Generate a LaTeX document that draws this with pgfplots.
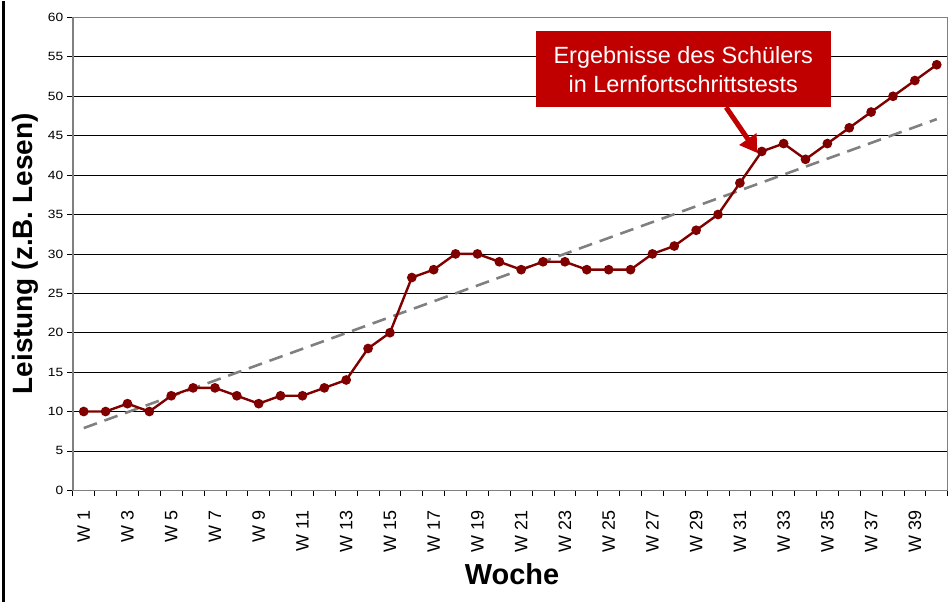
\documentclass[border=0pt]{standalone}
\usepackage{fontspec}
\setmainfont{Liberation Sans}
\usepackage{pgfplots}
\pgfplotsset{compat=1.18}
\usetikzlibrary{arrows.meta}

\definecolor{serie}{HTML}{800000}
\definecolor{kasten}{HTML}{C00000}
\definecolor{achse}{HTML}{808080}

\begin{document}
\begin{tikzpicture}
\begin{axis}[
  scale only axis, width=877pt, height=474pt,
  xmin=0.5, xmax=40.5, ymin=0, ymax=60,
  clip=false,
  xtick pos=bottom, ytick pos=left,
  xtick={0.5,1.5,...,40.5}, xticklabels={},
  extra x ticks={1,3,...,39},
  extra x tick labels={W 1,W 3,W 5,W 7,W 9,W 11,W 13,W 15,W 17,W 19,W 21,W 23,W 25,W 27,W 29,W 31,W 33,W 35,W 37,W 39},
  extra x tick style={major tick length=0pt,
    tick label style={yshift=-17pt, rotate=90, anchor=east, font=\fontsize{18}{20}\selectfont}},
  ytick={0,5,...,60},
  tick align=outside, major tick length=5.5pt,
  tick style={black, line width=0.8pt},
  yticklabel style={font=\fontsize{12}{14}\selectfont, xscale=1.15},
  /pgf/number format/assume math mode=true,
  ymajorgrids, grid style={black, line width=0.8pt},
  axis line style={achse, line width=1.6pt},
  ylabel={Leistung (z.B. Lesen)},
  ylabel style={at={(axis description cs:-0.054,0.5)}, anchor=center,
    font=\fontsize{28}{32}\selectfont\bfseries},
  xlabel={Woche},
  xlabel style={at={(axis description cs:0.502,-0.177)}, anchor=center,
    font=\fontsize{29}{32}\selectfont\bfseries},
]
% Trendlinie
\addplot[achse, line width=2.6pt, dash pattern=on 14pt off 8pt] coordinates {
  (1,7.9) (40,47.1)
};
% Testergebnisse
\addplot[serie, line width=2.4pt, mark=*, mark size=3.6pt,
  mark options={fill=serie, draw=serie}] coordinates {
  (1,10) (2,10) (3,11) (4,10) (5,12) (6,13) (7,13) (8,12) (9,11) (10,12)
  (11,12) (12,13) (13,14) (14,18) (15,20) (16,27) (17,28) (18,30) (19,30) (20,29)
  (21,28) (22,29) (23,29) (24,28) (25,28) (26,28) (27,30) (28,31) (29,33) (30,35)
  (31,39) (32,43) (33,44) (34,42) (35,44) (36,46) (37,48) (38,50) (39,52) (40,54)
};
% Beschriftung
\node[fill=kasten, text=white, minimum width=296pt, minimum height=76pt,
  align=center, inner sep=0pt, font=\fontsize{23.5}{29}\selectfont]
  at (axis cs:28.41,53.42) {Ergebnisse des Schülers\\in Lernfortschrittstests};
\draw[kasten, line width=5pt, -{Triangle[length=17pt, width=20pt]}]
  (axis cs:30.37,48.6) -- (axis cs:31.8,42.8);
% Rand links und Seitengröße
\draw[black, line width=3pt] (axis description cs:-0.0787,-0.2363) -- (axis description cs:-0.0787,1.0338);
\path (axis description cs:-0.0832,-0.2363) rectangle (axis description cs:1.0011,1.0338);
\end{axis}
\end{tikzpicture}
\end{document}
